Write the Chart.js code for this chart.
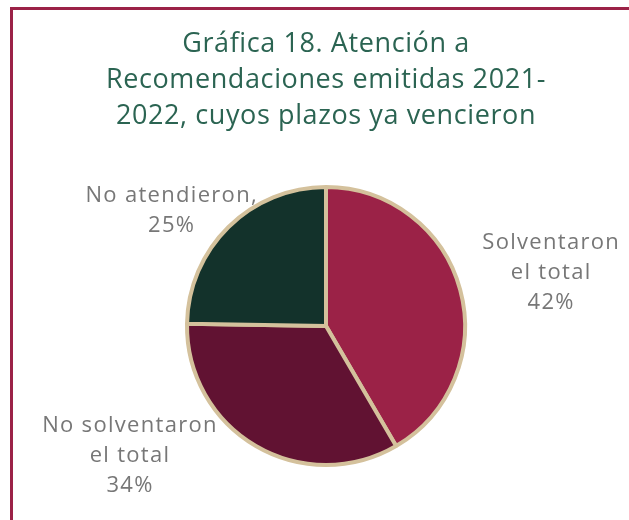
<!DOCTYPE html>
<html>
<head>
<meta charset="utf-8">
<script src="https://cdn.jsdelivr.net/npm/chart.js@4/dist/chart.umd.min.js"></script>
<style>
  html, body { margin: 0; padding: 0; background: #fff; }
  #wrap { position: relative; width: 629px; height: 520px; }
  #frame {
    position: absolute; left: 10px; top: 7px; right: 0; bottom: 0;
    border-top: 3px solid #9b2247; border-left: 3px solid #9b2247;
    pointer-events: none;
  }
</style>
</head>
<body>
<div id="wrap">
  <canvas id="chart" width="629" height="520"></canvas>
  <div id="frame"></div>
</div>
<script>
const titleLines = ['Gráfica 18. Atención a', 'Recomendaciones emitidas 2021-', '2022, cuyos plazos ya vencieron'];
const categories = ['Solventaron el total', 'No solventaron el total', 'No atendieron'];
const values = [42, 34, 25];
const sliceLabels = [['Solventaron', 'el total', '42%'], ['No solventaron', 'el total', '34%'], ['No atendieron,', '25%']];
const sliceColors = ['#9b2247', '#611232', '#13322b'];

// label anchor relative to pie centre, in units of the radius
const labelSpots = [[1.62, -0.38], [-1.41, 0.93], [-1.11, -0.83]];

const textPlugin = {
    id: 'textPlugin',
    afterDraw(chart) {
        const ctx = chart.ctx;
        const arc = chart.getDatasetMeta(0).data[0];
        const cx = arc.x, cy = arc.y, r = arc.outerRadius;
        ctx.save();
        ctx.textAlign = 'center';
        ctx.textBaseline = 'alphabetic';

        // title
        ctx.fillStyle = '#2b6452';
        ctx.font = '27px "Open Sans", sans-serif';
        ctx.letterSpacing = '0.6px';
        titleLines.forEach((ln, j) => ctx.fillText(ln, 326, 52 + j * 36));

        // slice labels
        ctx.fillStyle = '#777777';
        ctx.font = '22px "Open Sans", sans-serif';
        ctx.letterSpacing = '1.3px';
        ctx.textBaseline = 'middle';
        sliceLabels.forEach((lines, i) => {
            const x = cx + labelSpots[i][0] * r;
            const y0 = cy + labelSpots[i][1] * r - (lines.length - 1) * 15;
            lines.forEach((ln, j) => ctx.fillText(ln, x, y0 + j * 30));
        });
        ctx.restore();
    }
};

new Chart(document.getElementById('chart'), {
    type: 'pie',
    plugins: [textPlugin],
    data: {
        labels: categories,
        datasets: [{
            data: values,
            backgroundColor: sliceColors,
            borderColor: '#d4c19c',
            borderWidth: 4,
            radius: 139
        }]
    },
    options: {
        responsive: false,
        animation: false,
        layout: { padding: { left: 180, right: 157, top: 180, bottom: 48 } },
        plugins: {
            legend: { display: false },
            tooltip: { enabled: false },
            title: { display: false }
        }
    }
});
</script>
</body>
</html>
